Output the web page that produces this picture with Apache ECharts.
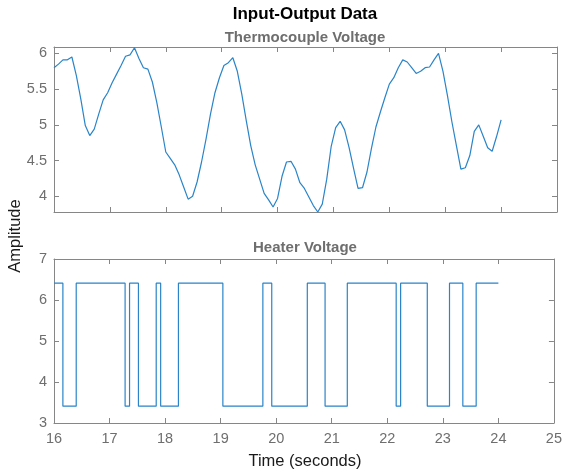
<!DOCTYPE html>
<html>
<head>
<meta charset="utf-8">
<script src="https://cdn.jsdelivr.net/npm/echarts@6/dist/echarts.min.js"></script>
<style>
  html, body { margin: 0; padding: 0; background: #fff; }
  #chart { width: 565px; height: 474px; }
</style>
</head>
<body>
<div id="chart"></div>
<script>
// sampling grid of the record (Ts = 0.08 s)
const startTime = 16;
const sampleTime = 0.08;

// thermocouple voltage, one value per sample, 16 s .. 24 s
const thermoValues = [
  5.80, 5.85, 5.91, 5.91, 5.95, 5.69, 5.36, 4.99, 4.85, 4.94,
  5.15, 5.35, 5.45, 5.59, 5.71, 5.83, 5.96, 5.98, 6.08, 5.93,
  5.80, 5.78, 5.60, 5.31, 4.97, 4.62, 4.53, 4.44, 4.30, 4.13,
  3.96, 4.00, 4.20, 4.48, 4.80, 5.15, 5.45, 5.66, 5.83, 5.87,
  5.94, 5.75, 5.43, 5.06, 4.71, 4.44, 4.24, 4.04, 3.95, 3.85,
  3.97, 4.28, 4.48, 4.49, 4.38, 4.19, 4.11, 3.99, 3.87, 3.78,
  3.89, 4.24, 4.70, 4.96, 5.05, 4.93, 4.68, 4.39, 4.11, 4.12,
  4.34, 4.67, 4.97, 5.18, 5.38, 5.57, 5.66, 5.80, 5.91, 5.88,
  5.80, 5.72, 5.75, 5.80, 5.81, 5.91, 6.00, 5.75, 5.41, 5.04,
  4.71, 4.38, 4.40, 4.57, 4.91, 5.00, 4.84, 4.68, 4.63, 4.84,
  5.07
];

// heater voltage, zero-order hold: value starts at the given time
const heaterTimes = [16, 16.16, 16.40, 17.28, 17.36, 17.52, 17.84, 17.92, 18.24, 19.04,
  19.76, 19.92, 20.56, 20.88, 21.28, 22.16, 22.24, 22.72, 23.12, 23.36, 23.60, 24];
const heaterValues = [6.41, 3.41, 6.41, 3.41, 6.41, 3.41, 6.41, 3.41, 6.41, 3.41,
  6.41, 3.41, 6.41, 3.41, 6.41, 3.41, 6.41, 3.41, 6.41, 3.41, 6.41, 6.41];

// tick labels
const thermoTicks = [4, 4.5, 5, 5.5, 6];
const heaterTicks = [3, 4, 5, 6, 7];

const thermoData = thermoValues.map((v, i) => [+(startTime + i * sampleTime).toFixed(2), v]);
const heaterData = heaterTimes.map((t, i) => [t, heaterValues[i]]);

const font = '"Liberation Sans", Arial, Helvetica, sans-serif';
const frameColor = "#868686";
const tickTextColor = "#6e6e6e";
const lineColor = "#2a84c8";

const grids = [
  { left: 54, right: 8, top: 47, height: 165 },
  { left: 54, right: 8, top: 259, height: 164 },
];

function xAxisFor(gridIndex, position, withLabels) {
  return {
    type: "value",
    gridIndex,
    position,
    min: 16,
    max: 25,
    interval: 1,
    axisLine: { show: true, onZero: false, lineStyle: { color: frameColor, width: 1 } },
    axisTick: { show: true, inside: true, length: 5, lineStyle: { color: frameColor } },
    axisLabel: {
      show: withLabels,
      color: tickTextColor,
      fontFamily: font,
      fontSize: 14.5,
      margin: 8,
    },
    splitLine: { show: false },
  };
}

function yAxisFor(gridIndex, position, withLabels, min, max, ticks) {
  return {
    type: "value",
    gridIndex,
    position,
    min,
    max,
    axisLine: { show: true, onZero: false, lineStyle: { color: frameColor, width: 1 } },
    axisTick: {
      show: true,
      inside: true,
      length: 5,
      customValues: ticks,
      lineStyle: { color: frameColor },
    },
    axisLabel: {
      show: withLabels,
      customValues: ticks,
      color: tickTextColor,
      fontFamily: font,
      fontSize: 14.5,
      margin: 7,
    },
    splitLine: { show: false },
  };
}

const option = {
  animation: false,
  backgroundColor: "#fff",
  grid: grids,
  xAxis: [
    xAxisFor(0, "bottom", false),
    xAxisFor(0, "top", false),
    xAxisFor(1, "bottom", true),
    xAxisFor(1, "top", false),
  ],
  yAxis: [
    yAxisFor(0, "left", true, 3.78, 6.09, thermoTicks),
    yAxisFor(0, "right", false, 3.78, 6.09, thermoTicks),
    yAxisFor(1, "left", true, 3, 7, heaterTicks),
    yAxisFor(1, "right", false, 3, 7, heaterTicks),
  ],
  series: [
    {
      name: "Thermocouple Voltage",
      type: "line",
      xAxisIndex: 0,
      yAxisIndex: 0,
      data: thermoData,
      showSymbol: false,
      lineStyle: { color: lineColor, width: 1.2 },
    },
    {
      name: "Heater Voltage",
      type: "line",
      xAxisIndex: 2,
      yAxisIndex: 2,
      data: heaterData,
      step: "end",
      showSymbol: false,
      lineStyle: { color: lineColor, width: 1.2 },
    },
  ],
  graphic: [
    {
      type: "text",
      x: 305,
      y: 14,
      style: {
        text: "Input-Output Data",
        font: "bold 17px " + font,
        fill: "#000",
        align: "center",
        verticalAlign: "middle",
      },
    },
    {
      type: "text",
      x: 305,
      y: 38,
      style: {
        text: "Thermocouple Voltage",
        font: "bold 15px " + font,
        fill: "#6e6e6e",
        align: "center",
        verticalAlign: "middle",
      },
    },
    {
      type: "text",
      x: 305,
      y: 248,
      style: {
        text: "Heater Voltage",
        font: "bold 15px " + font,
        fill: "#6e6e6e",
        align: "center",
        verticalAlign: "middle",
      },
    },
    {
      type: "text",
      x: 305,
      y: 461,
      style: {
        text: "Time (seconds)",
        font: "16.5px " + font,
        fill: "#1a1a1a",
        align: "center",
        verticalAlign: "middle",
      },
    },
    {
      type: "text",
      x: 15,
      y: 236,
      rotation: Math.PI / 2,
      style: {
        text: "Amplitude",
        font: "16.5px " + font,
        fill: "#1a1a1a",
        align: "center",
        verticalAlign: "middle",
      },
    },
  ],
};

const myChart = echarts.init(document.getElementById("chart"));
myChart.setOption(option);
</script>
</body>
</html>
